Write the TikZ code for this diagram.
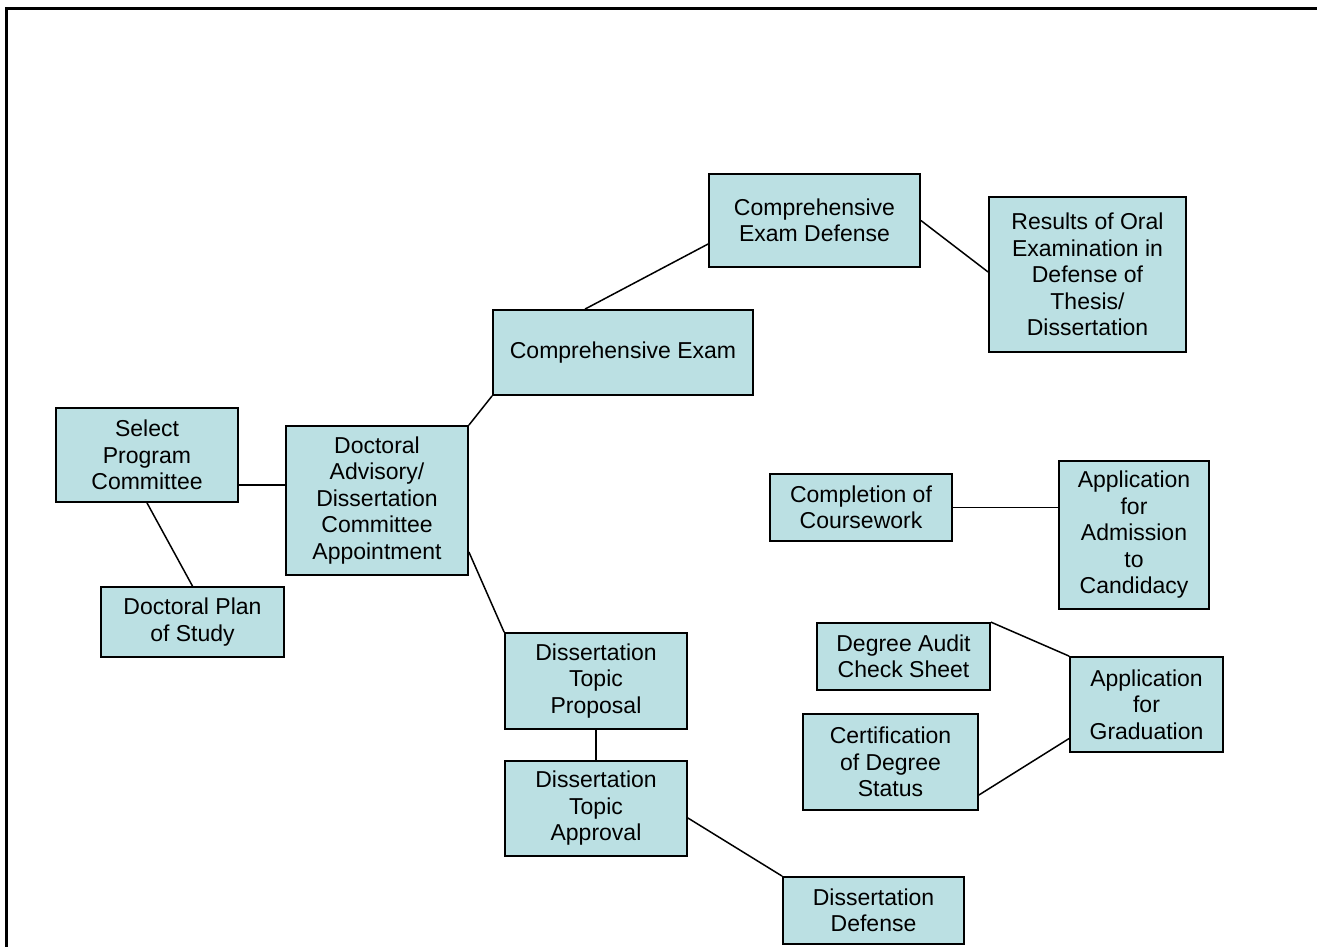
\documentclass[tikz,border=0pt]{standalone}
\usepackage{fontspec}
\setmainfont{Liberation Sans}
\definecolor{boxfill}{RGB}{187,224,227}
\begin{document}
\begin{tikzpicture}[x=1pt,y=-1pt,
  box/.style={draw=black,line width=1.8pt,fill=boxfill,rectangle,inner sep=0pt,
    align=center,font=\fontsize{23}{26.5}\selectfont},
  link/.style={line width=1.5pt,black}]
\useasboundingbox (0,0) rectangle (1317,947);
\fill[white] (0,0) rectangle (1317,947);
% frame
\draw[line width=3pt] (6.5,947) -- (6.5,8.5) -- (1317,8.5);
% nodes
\node[box,minimum width=182pt,minimum height=94pt] (sel) at (147,455) {Select\\Program\\Committee};
\node[box,minimum width=183pt,minimum height=70pt] (plan) at (192.5,622) {Doctoral Plan\\of Study};
\node[box,minimum width=182pt,minimum height=149pt] (adv) at (377,500.5) {Doctoral\\Advisory/\\Dissertation\\Committee\\Appointment};
\node[box,minimum width=260pt,minimum height=85pt] (cex) at (623,352.5) {Comprehensive Exam};
\node[box,minimum width=211pt,minimum height=93pt] (ced) at (814.5,220.5) {Comprehensive\\Exam Defense};
\node[box,minimum width=197pt,minimum height=155pt] (res) at (1087.5,274.5) {Results of Oral\\Examination in\\Defense of\\Thesis/\\Dissertation};
\node[box,minimum width=182pt,minimum height=67pt] (cow) at (861,507.5) {Completion of\\Coursework};
\node[box,minimum width=150pt,minimum height=148pt] (cand) at (1134,535) {Application\\for\\Admission\\to\\Candidacy};
\node[box,minimum width=173pt,minimum height=67pt] (aud) at (903.5,656.5) {Degree Audit\\Check Sheet};
\node[box,minimum width=153pt,minimum height=95pt] (grad) at (1146.5,704.5) {Application\\for\\Graduation};
\node[box,minimum width=175pt,minimum height=96pt] (cert) at (890.5,762) {Certification\\of Degree\\Status};
\node[box,minimum width=182pt,minimum height=96pt] (prop) at (596,681) {Dissertation\\Topic\\Proposal};
\node[box,minimum width=182pt,minimum height=95pt] (appr) at (596,808.5) {Dissertation\\Topic\\Approval};
\node[box,minimum width=181pt,minimum height=67pt] (dd) at (873.5,910.5) {Dissertation\\Defense};
% connectors
\coordinate (selout) at ([yshift=-30pt]sel.east);
\draw[link] (selout) -- (adv.west |- selout);
\draw[link] (sel.south) -- (plan.north);
\draw[link] (adv.north east) -- (cex.south west);
\draw[link] ([yshift=-51.5pt]adv.east) -- (prop.north west);
\draw[link] ([xshift=-38pt]cex.north) -- ([yshift=-23.5pt]ced.west);
\draw[link] (ced.east) -- ([yshift=2.5pt]res.west);
\draw[link] (cow.east) -- (cand.west |- cow.east);
\draw[link] (aud.north east) -- (grad.north west);
\draw[link] ([yshift=-33pt]cert.east) -- ([yshift=-34pt]grad.west);
\draw[link] (prop.south) -- (appr.north);
\draw[link] ([yshift=-9.5pt]appr.east) -- (dd.north west);
\end{tikzpicture}
\end{document}
